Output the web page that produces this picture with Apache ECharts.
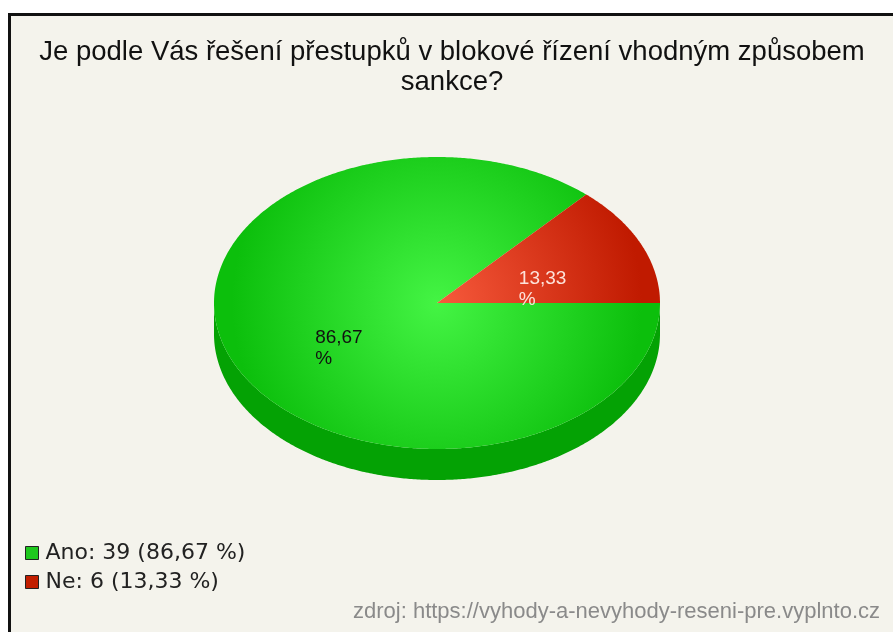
<!DOCTYPE html>
<html><head><meta charset="utf-8">
<script src="https://cdn.jsdelivr.net/npm/echarts@6/dist/echarts.min.js"></script>
<style>html,body{margin:0;padding:0;background:#fff}#c{width:893px;height:632px}</style>
</head><body><div id="c"></div>
<script>
// ---- data ----
const titleText = 'Je podle Vás řešení přestupků v blokové řízení vhodným způsobem\nsankce?';
const categories = ['Ano', 'Ne'];
const counts = [39, 6];
const sourceText = 'zdroj: https://vyhody-a-nevyhody-reseni-pre.vyplnto.cz';

// ---- derived ----
const total = counts.reduce((a, b) => a + b, 0);
const fmt = v => (v / total * 100).toFixed(2).replace('.', ',');
const starts = [];
(function () { let acc = 0; counts.forEach(v => { starts.push(acc); acc += v / total * 360; }); })();

// ---- layout / style ----
const CX = 437, CY = 303, RX = 223, RY = 146, DEPTH = 31;
const legendColors = ['#1ec81e', '#c21e00'];
const topStops = [['#44f444', '#0cbf0c'], ['#f75a3c', '#c01a00']];
const sideColors = ['#04a204', '#941400'];
const labelColors = ['#111111', '#fde2da'];

function pt(deg, k, dy) {
  const a = deg * Math.PI / 180;
  return [CX + RX * k * Math.cos(a), CY + RY * k * Math.sin(a) + (dy || 0)];
}
function arcPts(a0, a1, dy) {
  const out = [];
  const n = Math.max(2, Math.ceil((a1 - a0) / 0.5));
  for (let j = 0; j <= n; j++) out.push(pt(a0 + (a1 - a0) * j / n, 1, dy));
  return out;
}

function makeRender(i) {
  return function (params, api) {
    const s = starts[i];
    const e = s + api.value(0) / total * 360;
    const children = [];
    const lo = Math.max(s, 0), hi = Math.min(e, 180);
    if (hi > lo) {
      const upper = arcPts(lo, hi, 0);
      const lower = arcPts(lo, hi, DEPTH).reverse();
      children.push({
        type: 'polygon',
        shape: { points: upper.concat(lower) },
        style: { fill: sideColors[i] }
      });
    }
    const topPts = [[CX, CY]].concat(arcPts(s, e, 0));
    children.push({
      type: 'polygon',
      shape: { points: topPts },
      style: {
        fill: new echarts.graphic.RadialGradient(CX, CY, 205, [
          { offset: 0, color: topStops[i][0] },
          { offset: 1, color: topStops[i][1] }
        ], true)
      }
    });
    const mid = (s + e) / 2;
    const lp = pt(mid, 0.5, 0);
    children.push({
      type: 'text',
      x: lp[0] - 20, y: lp[1] - 5,
      style: {
        text: fmt(api.value(0)) + '\n%',
        fill: labelColors[i],
        font: '19px "Liberation Sans", Arial, sans-serif',
        lineHeight: 21,
        align: 'left',
        verticalAlign: 'top'
      }
    });
    return { type: 'group', children: children };
  };
}

const series = categories.map((name, i) => ({
  type: 'custom',
  name: name,
  coordinateSystem: 'none',
  z: 2 + i,
  itemStyle: { color: legendColors[i] },
  data: [[counts[i]]],
  renderItem: makeRender(i),
  silent: true
}));

const chart = echarts.init(document.getElementById('c'), null, { renderer: 'canvas' });
chart.setOption({
  backgroundColor: '#ffffff',
  animation: false,
  title: {
    text: titleText,
    left: 452,
    top: 37,
    padding: 0,
    textAlign: 'center',
    textStyle: {
      fontFamily: '"Liberation Sans", Arial, sans-serif',
      fontSize: 27.5,
      fontWeight: 'normal',
      color: '#111111',
      lineHeight: 30
    }
  },
  legend: {
    orient: 'vertical',
    left: 25,
    top: 542,
    padding: 0,
    itemWidth: 13,
    itemHeight: 13,
    itemGap: 7,
    icon: 'rect',
    selectedMode: false,
    itemStyle: { borderColor: '#222222', borderWidth: 1 },
    textStyle: {
      fontFamily: '"DejaVu Sans", sans-serif',
      fontSize: 22,
      lineHeight: 22,
      color: '#222222',
      padding: [0, 0, 0, 2]
    },
    formatter: function (name) {
      const i = categories.indexOf(name);
      return name + ': ' + counts[i] + ' (' + fmt(counts[i]) + ' %)';
    },
    data: categories
  },
  graphic: [
    {
      type: 'rect', z: -10,
      shape: { x: 9.5, y: 14.5, width: 900, height: 640 },
      style: { fill: '#f4f3ec', stroke: '#111111', lineWidth: 3 }
    },
    {
      type: 'text', right: 13, top: 601, z: 10,
      style: {
        text: sourceText,
        font: '22px "Liberation Sans", Arial, sans-serif',
        fill: '#8a8a8a'
      }
    }
  ],
  series: series
});
</script>
</body></html>
